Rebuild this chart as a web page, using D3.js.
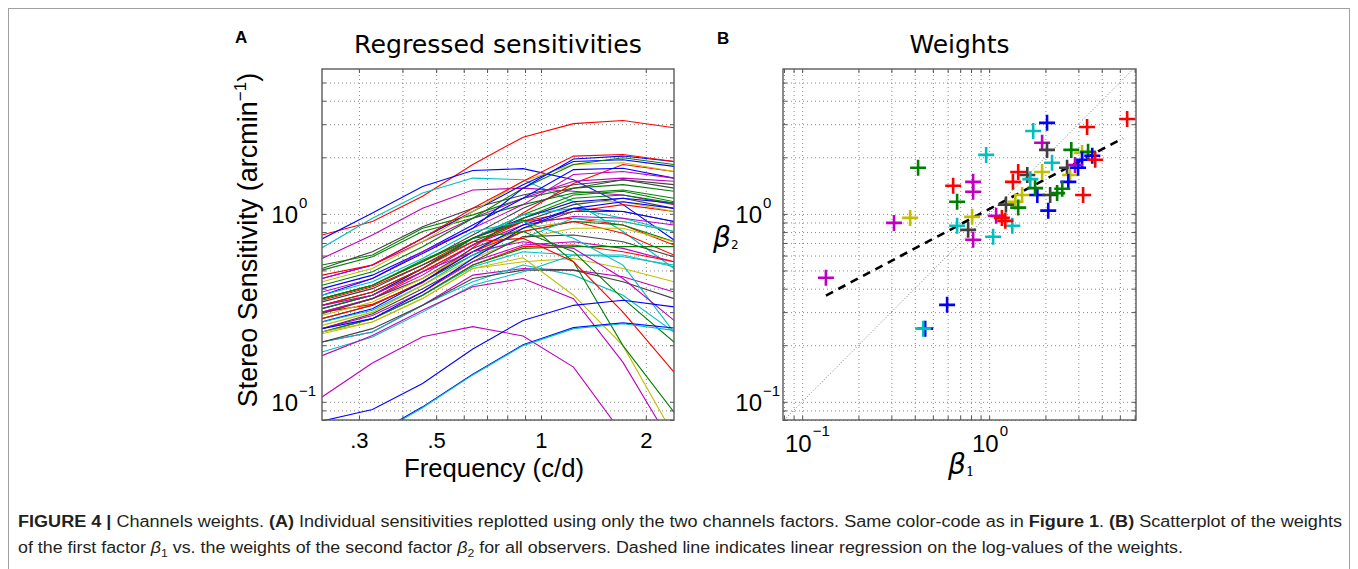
<!DOCTYPE html>
<html><head><meta charset="utf-8">
<script src="https://cdn.jsdelivr.net/npm/d3@7"></script>
<style>
body{margin:0;background:#fff;}
svg{display:block;}
.grid line{stroke:#8a8a8a;stroke-width:1;stroke-dasharray:1,3;}
.grid path{display:none;}
.ticks path{display:none;}
.ticks line{stroke:#555;stroke-width:1;}
.tl text{font-family:"Liberation Sans",Arial,sans-serif;font-size:22px;fill:#000;}
</style>
</head><body>
<svg id="fig" width="1358" height="569"></svg>
<script>
// ---------------- DATA ----------------
const frequencies = [0.235, 0.328, 0.457, 0.637, 0.888, 1.24, 1.72, 2.41];

const sensColors = ["r","b","c","m","g","k","g","r","b","m","y","g","b","m","b","k","g","r","k","c",
  "y","b","g","r","m","k","y","g","r","b","c","y","k","m","r","c","g","y","b","m",
  "c","k","c","m","y","g","r","c","m","g","r","m","b","b","c"];

const sensValues = [
  [0.772,0.910,1.24,1.83,2.56,3.02,3.14,2.87],
  [0.735,1.01,1.40,1.70,1.74,1.52,1.12,0.726],
  [0.661,0.948,1.29,1.55,1.52,1.16,0.805,0.512],
  [0.579,0.772,1.07,1.34,1.37,1.32,1.26,1.12],
  [0.534,0.604,0.838,0.988,1.21,1.37,1.43,1.32],
  [0.512,0.629,0.855,1.07,1.26,1.43,1.52,1.37],
  [0.502,0.591,0.805,0.948,1.12,1.29,1.34,1.21],
  [0.300,0.330,0.430,0.660,1.01,1.45,1.83,1.68],
  [0.453,0.534,0.741,1.03,1.43,1.90,1.94,1.79],
  [0.453,0.534,0.711,0.948,1.21,1.49,1.55,1.49],
  [0.435,0.512,0.711,1.03,1.49,1.83,1.87,1.68],
  [0.417,0.492,0.669,0.948,1.37,1.83,1.99,1.83],
  [0.400,0.472,0.629,0.873,1.21,1.72,1.75,1.55],
  [0.384,0.453,0.629,0.838,1.12,1.62,1.68,1.55],
  [0.369,0.453,0.616,0.838,1.37,1.96,2.03,1.90],
  [0.354,0.417,0.556,0.772,1.07,1.37,1.52,1.43],
  [0.354,0.417,0.567,0.741,0.988,1.26,1.32,1.16],
  [0.347,0.409,0.534,0.741,0.910,1.03,1.12,1.03],
  [0.340,0.400,0.534,0.711,0.910,1.12,1.21,1.07],
  [0.326,0.384,0.512,0.741,0.988,1.07,0.948,0.805],
  [0.326,0.369,0.512,0.741,0.948,1.16,1.16,1.03],
  [0.313,0.369,0.512,0.741,0.948,1.16,1.21,1.14],
  [0.313,0.369,0.492,0.683,0.948,1.21,1.26,1.14],
  [0.300,0.354,0.492,0.683,0.910,0.948,0.873,0.683],
  [0.300,0.354,0.472,0.683,0.873,0.968,0.948,0.873],
  [0.294,0.354,0.453,0.655,0.838,1.03,1.03,0.910],
  [0.288,0.340,0.453,0.629,0.838,0.910,0.910,0.805],
  [0.277,0.326,0.435,0.604,0.805,0.910,0.873,0.711],
  [0.277,0.326,0.435,0.629,0.805,0.910,0.788,0.604],
  [0.266,0.313,0.435,0.629,0.873,1.07,1.03,0.910],
  [0.266,0.307,0.417,0.604,0.741,0.948,0.910,0.805],
  [0.255,0.300,0.417,0.579,0.741,0.838,0.838,0.711],
  [0.245,0.294,0.400,0.556,0.757,0.772,0.711,0.591],
  [0.245,0.288,0.384,0.556,0.683,0.711,0.655,0.556],
  [0.235,0.277,0.369,0.534,0.669,0.683,0.629,0.556],
  [0.235,0.277,0.369,0.523,0.629,0.604,0.591,0.534],
  [0.235,0.277,0.369,0.534,0.655,0.669,0.669,0.669],
  [0.230,0.266,0.354,0.512,0.556,0.579,0.512,0.435],
  [0.245,0.277,0.384,0.579,0.838,1.07,1.16,1.07],
  [0.208,0.235,0.326,0.472,0.512,0.502,0.463,0.384],
  [0.208,0.235,0.326,0.435,0.534,0.472,0.369,0.235],
  [0.208,0.245,0.326,0.453,0.502,0.502,0.435,0.354],
  [0.184,0.221,0.300,0.417,0.492,0.604,0.604,0.523],
  [0.176,0.225,0.307,0.409,0.453,0.354,0.162,0.057],
  [0.235,0.266,0.354,0.512,0.584,0.369,0.199,0.066],
  [0.326,0.384,0.512,0.741,0.929,0.556,0.199,0.088],
  [0.326,0.384,0.512,0.711,0.741,0.556,0.300,0.144],
  [0.369,0.435,0.579,0.805,0.910,0.741,0.534,0.235],
  [0.326,0.369,0.492,0.629,0.711,0.655,0.453,0.271],
  [0.354,0.417,0.556,0.741,0.805,0.629,0.354,0.208],
  [0.472,0.534,0.741,1.07,1.49,2.03,2.07,1.90],
  [0.106,0.161,0.222,0.251,0.224,0.153,0.067,0.030],
  [0.079,0.091,0.125,0.191,0.271,0.326,0.347,0.320],
  [0.046,0.066,0.094,0.140,0.201,0.248,0.263,0.247],
  [0.046,0.065,0.093,0.139,0.199,0.245,0.260,0.240]
];

const beta1 = [0.134,0.310,0.378,0.417,0.596,0.455,0.444,0.642,0.674,0.674,
  0.821,0.821,0.811,0.772,0.821,0.964,1.05,1.09,1.17,1.33,
  1.23,1.38,1.50,1.43,1.34,1.43,1.60,1.66,1.92,1.72,
  2.04,1.92,2.04,2.17,2.75,2.61,2.71,3.34,5.47,3.14,
  3.38,3.56,3.14,2.88,2.99,3.69,2.65,1.81,1.76,2.12,
  2.31,2.46,2.07,3.18,1.22];
const beta2 = [0.457,0.895,0.952,1.76,0.328,0.245,0.245,1.41,1.16,0.864,
  1.48,1.31,0.964,0.822,0.728,2.06,0.755,0.976,0.952,0.864,
  1.12,1.16,1.26,1.08,1.48,1.67,1.61,1.53,1.67,2.76,
  3.05,2.39,2.19,1.87,2.19,1.76,1.61,2.90,3.20,2.11,
  2.14,2.04,1.94,1.82,1.76,1.94,1.48,1.26,1.37,1.26,
  1.29,1.36,1.04,1.26,0.918];
const betaColors = ["m","m","y","g","b","b","c","r","g","c",
  "m","m","y","k","m","c","c","m","r","c",
  "k","y","y","g","r","r","k","c","y","c",
  "b","m","k","c","g","k","y","r","r","y",
  "g","b","b","m","b","r","b","b","g","k",
  "g","g","b","r","r"];

// regression on log values
const regSlope = 0.527;
const regIntercept = 1.06;
const regEndX = 5.2;

const yGridVals = [0.08,0.09,0.1,0.2,0.3,0.4,0.5,0.6,0.7,0.8,0.9,1,2,3,4,5];
const xGridValsA = [0.3,0.4,0.5,0.6,0.7,0.8,0.9,1,2];
const xLabelValsA = [0.3,0.5,1,2];
const xLabelTextA = [".3",".5","1","2"];
const xGridValsB = [0.08,0.09,0.1,0.2,0.3,0.4,0.5,0.6,0.7,0.8,0.9,1,2,3,4,5,6];
const powerVals = [0.1, 1];
const powerText = ["\u22121", "0"];

const colorCodes = {b:"#0000ff", g:"#008000", r:"#ff0000", c:"#00bfbf", m:"#bf00bf", y:"#bfbf00", k:"#404040"};

// ---------------- DRAW ----------------
const svg = d3.select("#fig");
svg.append("rect").attr("x",8.5).attr("y",8.5).attr("width",1341).attr("height",620)
  .attr("fill","none").attr("stroke","#a0a0a0").attr("stroke-width",1);

const A = {x0:322, x1:674, y0:69, y1:420};
const B = {x0:783, x1:1136, y0:69, y1:420};

const xA = d3.scaleLog().domain([0.235, 2.41]).range([A.x0, A.x1]);
const yA = d3.scaleLog().domain([0.080, 5.9]).range([A.y1, A.y0]);
const xB = d3.scaleLog().domain([0.079, 6.1]).range([B.x0, B.x1]);
const yB = d3.scaleLog().domain([0.080, 5.9]).range([B.y1, B.y0]);

function frame(P, x, y, xGrid, yGrid) {
  const h = P.y1 - P.y0, w = P.x1 - P.x0;
  svg.append("g").attr("class","grid").attr("transform",`translate(0,${P.y1})`)
    .call(d3.axisBottom(x).tickValues(xGrid).tickSize(-h).tickFormat(""));
  svg.append("g").attr("class","grid").attr("transform",`translate(${P.x0},0)`)
    .call(d3.axisLeft(y).tickValues(yGrid).tickSize(-w).tickFormat(""));
}
function box(P, x, y, xGrid, yGrid) {
  const t = 4;
  svg.append("g").attr("class","ticks").attr("transform",`translate(0,${P.y1})`)
    .call(d3.axisBottom(x).tickValues(xGrid).tickSize(-t).tickSizeOuter(0).tickFormat(""));
  svg.append("g").attr("class","ticks").attr("transform",`translate(0,${P.y0})`)
    .call(d3.axisTop(x).tickValues(xGrid).tickSize(-t).tickSizeOuter(0).tickFormat(""));
  svg.append("g").attr("class","ticks").attr("transform",`translate(${P.x0},0)`)
    .call(d3.axisLeft(y).tickValues(yGrid).tickSize(-t).tickSizeOuter(0).tickFormat(""));
  svg.append("g").attr("class","ticks").attr("transform",`translate(${P.x1},0)`)
    .call(d3.axisRight(y).tickValues(yGrid).tickSize(-t).tickSizeOuter(0).tickFormat(""));
  svg.append("rect").attr("x",P.x0).attr("y",P.y0).attr("width",P.x1-P.x0).attr("height",P.y1-P.y0)
    .attr("fill","none").attr("stroke","#5a5a5a").attr("stroke-width",1.4);
}
function yPowerLabels(P, y, gap) {
  powerVals.forEach((v,i) => {
    const yy = y(v);
    svg.append("text").attr("x",P.x0-gap).attr("y",yy+9.5).attr("text-anchor","end")
      .style("font-family","Liberation Sans, Arial, sans-serif").style("font-size","24px").text("10");
    svg.append("text").attr("x",P.x0-gap+1).attr("y",yy-5.5).attr("text-anchor","start")
      .style("font-family","Liberation Sans, Arial, sans-serif").style("font-size","15px").text(powerText[i]);
  });
}

// ---- Panel A ----
frame(A, xA, yA, xGridValsA, yGridVals);
svg.append("clipPath").attr("id","clipA").append("rect")
  .attr("x",A.x0).attr("y",A.y0).attr("width",A.x1-A.x0).attr("height",A.y1-A.y0);
const lineA = d3.line().x((d,i)=>xA(frequencies[i])).y(d=>yA(d));
svg.append("g").attr("clip-path","url(#clipA)").selectAll("path").data(sensValues).join("path")
  .attr("d", lineA).attr("fill","none")
  .attr("stroke",(d,i)=>colorCodes[sensColors[i]]).attr("stroke-width",1.1);
box(A, xA, yA, xGridValsA, yGridVals);

const xlab = svg.append("g").attr("class","tl").attr("transform",`translate(0,${A.y1})`)
  .call(d3.axisBottom(xA).tickValues(xLabelValsA).tickSize(0).tickPadding(12)
    .tickFormat((d,i)=>xLabelTextA[i]));
xlab.select(".domain").remove();
xlab.selectAll("text").style("font-size","22px").style("font-family","Liberation Sans, Arial, sans-serif");
yPowerLabels(A, yA, 24);

svg.append("text").attr("x",(A.x0+A.x1)/2).attr("y",53).attr("text-anchor","middle")
  .style("font-family","DejaVu Sans, sans-serif").style("font-size","24px")
  .attr("textLength",288).attr("lengthAdjust","spacingAndGlyphs").text("Regressed sensitivities");
svg.append("text").attr("x",(A.x0+A.x1)/2 - 4).attr("y",477).attr("text-anchor","middle")
  .style("font-family","Liberation Sans, Arial, sans-serif").style("font-size","25px")
  .attr("textLength",180).attr("lengthAdjust","spacingAndGlyphs").text("Frequency (c/d)");
const yl = svg.append("text").attr("transform","translate(257,240) rotate(-90)").attr("text-anchor","middle")
  .style("font-family","Liberation Sans, Arial, sans-serif").style("font-size","27px");
yl.append("tspan").text("Stereo Sensitivity (arcmin");
yl.append("tspan").attr("dy",-11).style("font-size","17px").text("\u22121");
yl.append("tspan").attr("dy",11).text(")");
svg.append("text").attr("x",235).attr("y",43).style("font-family","Liberation Sans, Arial, sans-serif")
  .style("font-weight","bold").style("font-size","17px").text("A");

// ---- Panel B ----
frame(B, xB, yB, xGridValsB, yGridVals);
svg.append("clipPath").attr("id","clipB").append("rect")
  .attr("x",B.x0).attr("y",B.y0).attr("width",B.x1-B.x0).attr("height",B.y1-B.y0);
const gB = svg.append("g").attr("clip-path","url(#clipB)");
gB.append("path").attr("d", d3.line().x(d=>xB(d)).y(d=>yB(d))([0.07, 7]))
  .attr("stroke","#777").attr("stroke-width",1).attr("stroke-dasharray","1,2").attr("fill","none");
const regX = [d3.min(beta1), regEndX];
gB.append("path").attr("d", d3.line().x(d=>xB(d)).y(d=>yB(regIntercept*Math.pow(d,regSlope)))(regX))
  .attr("stroke","#000").attr("stroke-width",2.6).attr("stroke-dasharray","8,6").attr("fill","none");
gB.selectAll("path.pt").data(beta1).join("path").attr("class","pt")
  .attr("transform",(d,i)=>`translate(${xB(d)},${yB(beta2[i])})`)
  .attr("d","M-8,0H8M0,-8V8").attr("fill","none")
  .attr("stroke",(d,i)=>colorCodes[betaColors[i]]).attr("stroke-width",2.6);
box(B, xB, yB, xGridValsB, yGridVals);

powerVals.forEach((v,i) => {
  const xx = xB(v);
  svg.append("text").attr("x",xx+9.5).attr("y",452).attr("text-anchor","end")
    .style("font-family","Liberation Sans, Arial, sans-serif").style("font-size","24px").text("10");
  svg.append("text").attr("x",xx+10.5).attr("y",436).attr("text-anchor","start")
    .style("font-family","Liberation Sans, Arial, sans-serif").style("font-size","15px").text(powerText[i]);
});
yPowerLabels(B, yB, 21);

svg.append("text").attr("x",(B.x0+B.x1)/2).attr("y",53).attr("text-anchor","middle")
  .style("font-family","DejaVu Sans, sans-serif").style("font-size","24px")
  .attr("textLength",100).attr("lengthAdjust","spacingAndGlyphs").text("Weights");
const b1 = svg.append("text").attr("x",948).attr("y",474)
  .style("font-family","DejaVu Sans, sans-serif").style("font-size","28px").style("font-style","italic");
b1.append("tspan").text("\u03b2");
b1.append("tspan").attr("dy",2).style("font-size","13px").style("font-style","normal")
  .style("font-family","DejaVu Serif, serif").text("1");
const b2 = svg.append("text").attr("x",713).attr("y",247)
  .style("font-family","DejaVu Sans, sans-serif").style("font-size","28px").style("font-style","italic");
b2.append("tspan").text("\u03b2");
b2.append("tspan").attr("dy",2).style("font-size","12px").style("font-style","normal").text("2");
svg.append("text").attr("x",717).attr("y",44).style("font-family","Liberation Sans, Arial, sans-serif")
  .style("font-weight","bold").style("font-size","17px").text("B");

// ---- Caption ----
const capFont = "Liberation Sans Narrow, Liberation Sans, Arial, sans-serif";
const c1 = svg.append("text").attr("x",18).attr("y",527).attr("textLength",1324).attr("lengthAdjust","spacingAndGlyphs")
  .style("font-family",capFont).style("font-size","16px").style("fill","#231f20");
[["FIGURE 4 |",1],[" Channels weights. ",0],["(A)",1],[" Individual sensitivities replotted using only the two channels factors. Same color-code as in ",0],
 ["Figure 1",1],[". ",0],["(B)",1],[" Scatterplot of the weights",0]].forEach(([t,b]) => {
  c1.append("tspan").style("font-weight", b ? "bold" : "normal").text(t);
});
const c2 = svg.append("text").attr("x",18).attr("y",553).attr("textLength",1165).attr("lengthAdjust","spacingAndGlyphs")
  .style("font-family",capFont).style("font-size","16px").style("fill","#231f20");
c2.append("tspan").text("of the first factor ");
c2.append("tspan").style("font-style","italic").text("\u03b2");
c2.append("tspan").attr("dy",4).style("font-size","11px").text("1");
c2.append("tspan").attr("dy",-4).text(" vs. the weights of the second factor ");
c2.append("tspan").style("font-style","italic").text("\u03b2");
c2.append("tspan").attr("dy",4).style("font-size","11px").text("2");
c2.append("tspan").attr("dy",-4).text(" for all observers. Dashed line indicates linear regression on the log-values of the weights.");
</script>
</body></html>
